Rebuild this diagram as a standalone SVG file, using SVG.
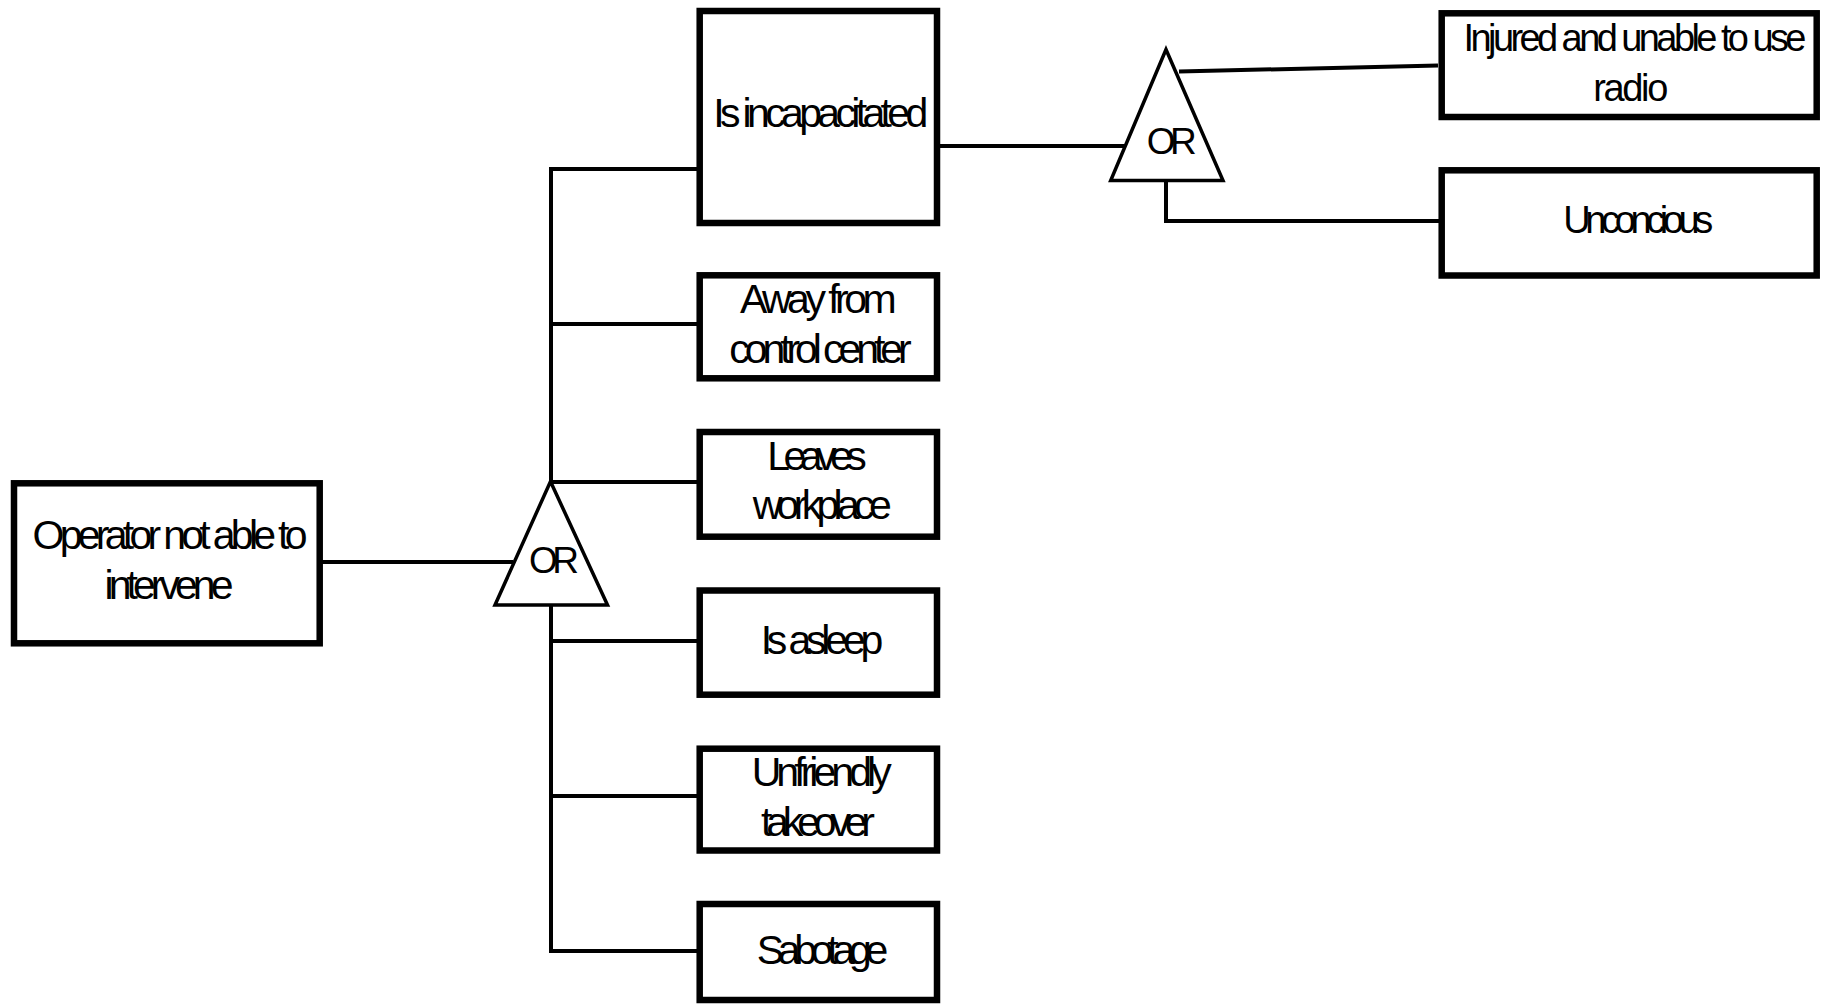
<svg xmlns="http://www.w3.org/2000/svg" width="1824" height="1005" viewBox="0 0 1824 1005">
  <style>
    .box { fill: #fff; stroke: #000; stroke-width: 6.5; }
    .gate { fill: #fff; stroke: #000; stroke-width: 3.5; stroke-linejoin: miter; }
    .wire { fill: none; stroke: #000; stroke-width: 4; }
    .lbl { font-family: "Liberation Sans", Arial, sans-serif; font-size: 41px; fill: #000; text-anchor: middle; }
    .sm { font-size: 38px; }
    .gl { font-family: "Liberation Sans", Arial, sans-serif; font-size: 37px; fill: #000; text-anchor: middle; }
  </style>
  <rect width="1824" height="1005" fill="#fff"/>

  <!-- connectors -->
  <g id="connectors">
    <line class="wire" x1="322" y1="562" x2="513" y2="562"/>
    <line class="wire" x1="551" y1="167" x2="551" y2="482"/>
    <line class="wire" x1="551" y1="605" x2="551" y2="953"/>
    <line class="wire" x1="549" y1="169" x2="697" y2="169"/>
    <line class="wire" x1="551" y1="324" x2="697" y2="324"/>
    <line class="wire" x1="551" y1="482" x2="697" y2="482"/>
    <line class="wire" x1="551" y1="641" x2="697" y2="641"/>
    <line class="wire" x1="551" y1="796" x2="697" y2="796"/>
    <line class="wire" x1="549" y1="951" x2="697" y2="951"/>
    <line class="wire" x1="940" y1="146" x2="1131" y2="146"/>
    <line class="wire" x1="1179" y1="71.5" x2="1438" y2="65.5"/>
    <polyline class="wire" points="1166,181 1166,221 1439,221"/>
  </g>

  <!-- top event -->
  <g id="node-operator">
    <rect class="box" x="14" y="483.3" width="305.7" height="160"/>
    <text class="lbl" x="170" y="549" textLength="275" lengthAdjust="spacing">Operator not able to</text>
    <text class="lbl" x="169" y="598.5" textLength="129" lengthAdjust="spacing">intervene</text>
  </g>

  <!-- OR gate under the top event -->
  <g id="gate-or-1">
    <polygon class="gate" points="550.5,481.5 495,605 607.5,605"/>
    <text class="gl" x="554" y="572.7" textLength="50" lengthAdjust="spacing">OR</text>
  </g>

  <g id="node-incapacitated">
    <rect class="box" x="699.7" y="11" width="237.3" height="212"/>
    <text class="lbl" x="820.8" y="127" textLength="215" lengthAdjust="spacing">Is incapacitated</text>
  </g>

  <g id="node-away">
    <rect class="box" x="699.7" y="275.3" width="237.3" height="103"/>
    <text class="lbl" x="818.3" y="313" textLength="156.7" lengthAdjust="spacing">Away from</text>
    <text class="lbl" x="820.5" y="363" textLength="182.3" lengthAdjust="spacing">control center</text>
  </g>

  <g id="node-leaves">
    <rect class="box" x="699.7" y="432" width="237.3" height="104.7"/>
    <text class="lbl" x="817" y="469.5" textLength="99.3" lengthAdjust="spacing">Leaves</text>
    <text class="lbl" x="822.2" y="519" textLength="139" lengthAdjust="spacing">workplace</text>
  </g>

  <g id="node-asleep">
    <rect class="box" x="699.7" y="590.5" width="237.3" height="104.2"/>
    <text class="lbl" x="822" y="653.5" textLength="122.7" lengthAdjust="spacing">Is asleep</text>
  </g>

  <g id="node-takeover">
    <rect class="box" x="699.7" y="748.7" width="237.3" height="101.8"/>
    <text class="lbl" x="821.7" y="786" textLength="140" lengthAdjust="spacing">Unfriendly</text>
    <text class="lbl" x="818" y="835.5" textLength="114" lengthAdjust="spacing">takeover</text>
  </g>

  <g id="node-sabotage">
    <rect class="box" x="699.7" y="904" width="237.3" height="96"/>
    <text class="lbl" x="822.5" y="964" textLength="131.7" lengthAdjust="spacing">Sabotage</text>
  </g>

  <!-- OR gate under "Is incapacitated" -->
  <g id="gate-or-2">
    <polygon class="gate" points="1166,49.5 1110.7,180.5 1223,180.5"/>
    <text class="gl" x="1171.7" y="154" textLength="50" lengthAdjust="spacing">OR</text>
  </g>

  <g id="node-injured">
    <rect class="box" x="1441.7" y="13.3" width="375" height="103.7"/>
    <text class="lbl sm" x="1635" y="51" textLength="343" lengthAdjust="spacing">Injured and unable to use</text>
    <text class="lbl sm" x="1630.8" y="100.5" textLength="75" lengthAdjust="spacing">radio</text>
  </g>

  <g id="node-unconcious">
    <rect class="box" x="1441.7" y="170.3" width="375" height="105.2"/>
    <text class="lbl sm" x="1638.3" y="233" textLength="150" lengthAdjust="spacing">Unconcious</text>
  </g>
</svg>
